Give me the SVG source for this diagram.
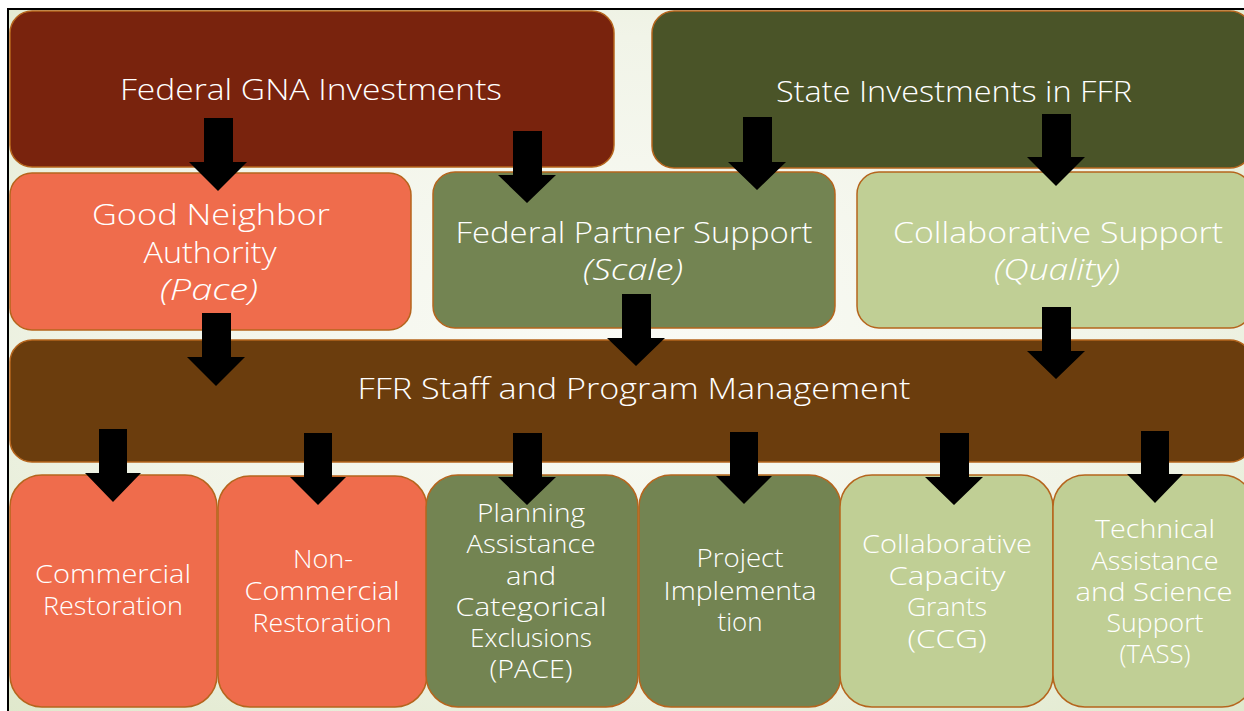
<svg xmlns="http://www.w3.org/2000/svg" width="1244" height="711" viewBox="0 0 1244 711">
  <defs>
    <radialGradient id="bg" cx="0.5" cy="0.45" r="0.75">
      <stop offset="0" stop-color="#fafbf6"/>
      <stop offset="0.55" stop-color="#f1f4e8"/>
      <stop offset="1" stop-color="#dfe8cb"/>
    </radialGradient>
    <style>
      .box { stroke: #b5651d; stroke-width: 1.5; }
      .fedgna { fill: #79230d; }
      .state { fill: #4a5428; }
      .coral { fill: #ef6c4c; }
      .olive { fill: #738452; }
      .sage { fill: #c0cf95; }
      .mgmt { fill: #6b3d0d; }
      .lbl { font-family: "Open Sans", "Liberation Sans", sans-serif; font-weight: 300; fill: #ffffff; text-anchor: middle; }
      .big { font-size: 30px; }
      .small { font-size: 25px; }
      .it { font-style: italic; }
      .arrow { fill: #000000; }
    </style>
  </defs>

  <!-- page and frame -->
  <rect x="0" y="0" width="1244" height="711" fill="#ffffff"/>
  <rect x="9" y="10" width="1240" height="705" fill="url(#bg)"/>
  <line x1="7" y1="9" x2="1244" y2="9" stroke="#000" stroke-width="2"/>
  <line x1="8" y1="9" x2="8" y2="711" stroke="#000" stroke-width="2"/>

  <!-- funding sources -->
  <g id="federal-gna">
    <rect class="box fedgna" x="10" y="11" width="604" height="156" rx="22"/>
    <text class="lbl big" x="311" y="100" textLength="382" lengthAdjust="spacingAndGlyphs">Federal GNA Investments</text>
  </g>
  <g id="state-investments">
    <rect class="box state" x="652" y="11" width="600" height="157" rx="22"/>
    <text class="lbl big" x="954" y="102" textLength="356" lengthAdjust="spacingAndGlyphs">State Investments in FFR</text>
  </g>

  <!-- support tiers -->
  <g id="good-neighbor">
    <rect class="box coral" x="10" y="173" width="401" height="157" rx="22"/>
    <text class="lbl big" x="211" y="225" textLength="238" lengthAdjust="spacingAndGlyphs">Good Neighbor</text>
    <text class="lbl big" x="210" y="263" textLength="133" lengthAdjust="spacingAndGlyphs">Authority</text>
    <text class="lbl big it" x="209" y="300" textLength="98" lengthAdjust="spacingAndGlyphs">(Pace)</text>
  </g>
  <g id="federal-partner">
    <rect class="box olive" x="433" y="172" width="402" height="156" rx="22"/>
    <text class="lbl big" x="634" y="243" textLength="357" lengthAdjust="spacingAndGlyphs">Federal Partner Support</text>
    <text class="lbl big it" x="633" y="280" textLength="100" lengthAdjust="spacingAndGlyphs">(Scale)</text>
  </g>
  <g id="collaborative-support">
    <rect class="box sage" x="857" y="172" width="395" height="156" rx="22"/>
    <text class="lbl big" x="1058" y="243" textLength="330" lengthAdjust="spacingAndGlyphs">Collaborative Support</text>
    <text class="lbl big it" x="1057" y="280" textLength="126" lengthAdjust="spacingAndGlyphs">(Quality)</text>
  </g>

  <!-- management bar -->
  <g id="ffr-management">
    <rect class="box mgmt" x="10" y="340" width="1242" height="122" rx="22"/>
    <text class="lbl big" x="634" y="399" textLength="553" lengthAdjust="spacingAndGlyphs">FFR Staff and Program Management</text>
  </g>

  <!-- program areas -->
  <g id="commercial">
    <rect class="box coral" x="10" y="475" width="207" height="232" rx="32"/>
    <text class="lbl small" x="113" y="583" textLength="156" lengthAdjust="spacingAndGlyphs">Commercial</text>
    <text class="lbl small" x="113" y="615" textLength="140" lengthAdjust="spacingAndGlyphs">Restoration</text>
  </g>
  <g id="non-commercial">
    <rect class="box coral" x="218" y="476" width="209" height="231" rx="32"/>
    <text class="lbl small" x="323" y="568" textLength="60" lengthAdjust="spacingAndGlyphs">Non-</text>
    <text class="lbl small" x="322" y="600" textLength="155" lengthAdjust="spacingAndGlyphs">Commercial</text>
    <text class="lbl small" x="322" y="632" textLength="139" lengthAdjust="spacingAndGlyphs">Restoration</text>
  </g>
  <g id="pace">
    <rect class="box olive" x="426" y="475" width="212" height="232" rx="32"/>
    <text class="lbl small" x="531" y="522" textLength="108" lengthAdjust="spacingAndGlyphs">Planning</text>
    <text class="lbl small" x="531" y="553" textLength="129" lengthAdjust="spacingAndGlyphs">Assistance</text>
    <text class="lbl small" x="531" y="585" textLength="50" lengthAdjust="spacingAndGlyphs">and</text>
    <text class="lbl small" x="531" y="616" textLength="151" lengthAdjust="spacingAndGlyphs">Categorical</text>
    <text class="lbl small" x="531" y="647" textLength="122" lengthAdjust="spacingAndGlyphs">Exclusions</text>
    <text class="lbl small" x="531" y="678" textLength="83" lengthAdjust="spacingAndGlyphs">(PACE)</text>
  </g>
  <g id="project-implementation">
    <rect class="box olive" x="639" y="475" width="202" height="232" rx="32"/>
    <text class="lbl small" x="740" y="567" textLength="87" lengthAdjust="spacingAndGlyphs">Project</text>
    <text class="lbl small" x="740" y="600" textLength="153" lengthAdjust="spacingAndGlyphs">Implementa</text>
    <text class="lbl small" x="740" y="631" textLength="45" lengthAdjust="spacingAndGlyphs">tion</text>
  </g>
  <g id="ccg">
    <rect class="box sage" x="840" y="475" width="213" height="232" rx="32"/>
    <text class="lbl small" x="947" y="553" textLength="170" lengthAdjust="spacingAndGlyphs">Collaborative</text>
    <text class="lbl small" x="947" y="585" textLength="117" lengthAdjust="spacingAndGlyphs">Capacity</text>
    <text class="lbl small" x="947" y="616" textLength="80" lengthAdjust="spacingAndGlyphs">Grants</text>
    <text class="lbl small" x="947" y="648" textLength="79" lengthAdjust="spacingAndGlyphs">(CCG)</text>
  </g>
  <g id="tass">
    <rect class="box sage" x="1053" y="475" width="201" height="232" rx="32"/>
    <text class="lbl small" x="1155" y="538" textLength="120" lengthAdjust="spacingAndGlyphs">Technical</text>
    <text class="lbl small" x="1155" y="570" textLength="127" lengthAdjust="spacingAndGlyphs">Assistance</text>
    <text class="lbl small" x="1154" y="601" textLength="157" lengthAdjust="spacingAndGlyphs">and Science</text>
    <text class="lbl small" x="1155" y="632" textLength="97" lengthAdjust="spacingAndGlyphs">Support</text>
    <text class="lbl small" x="1155" y="663" textLength="71" lengthAdjust="spacingAndGlyphs">(TASS)</text>
  </g>

  <!-- block arrows: shaft 29 wide, head 58 wide -->
  <g id="connectors">
    <polygon class="arrow" points="204,118 233,118 233,162 247,162 218,191 189,162 204,162"/>
    <polygon class="arrow" points="513,131 542,131 542,175 556,175 527,203 498,175 513,175"/>
    <polygon class="arrow" points="743,117 772,117 772,162 786,162 757,190 728,162 743,162"/>
    <polygon class="arrow" points="1042,114 1071,114 1071,157 1085,157 1056,186 1027,157 1042,157"/>
    <polygon class="arrow" points="202,313 231,313 231,357 245,357 216,386 187,357 202,357"/>
    <polygon class="arrow" points="622,294 651,294 651,338 665,338 636,366 607,338 622,338"/>
    <polygon class="arrow" points="1042,307 1071,307 1071,351 1085,351 1056,379 1027,351 1042,351"/>
    <polygon class="arrow" points="99,429 127,429 127,473 141,473 113,502 85,473 99,473"/>
    <polygon class="arrow" points="304,433 332,433 332,477 346,477 318,505 290,477 304,477"/>
    <polygon class="arrow" points="513,433 542,433 542,477 556,477 527,505 498,477 513,477"/>
    <polygon class="arrow" points="730,432 758,432 758,476 772,476 744,504 716,476 730,476"/>
    <polygon class="arrow" points="940,433 969,433 969,477 983,477 954,505 925,477 940,477"/>
    <polygon class="arrow" points="1141,431 1169,431 1169,474 1183,474 1155,503 1127,474 1141,474"/>
  </g>
</svg>
